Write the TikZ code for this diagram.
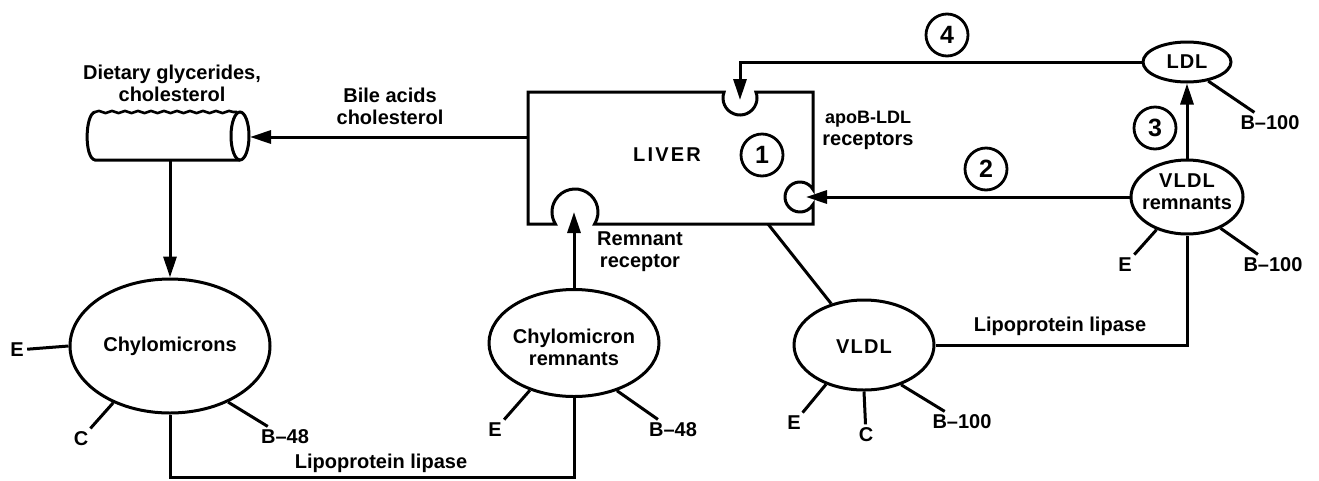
\documentclass[tikz,border=0pt]{standalone}
\usepackage{fontspec}
\setmainfont{Liberation Sans}
\usetikzlibrary{arrows.meta,shapes.geometric,decorations.pathmorphing}
\begin{document}
\begin{tikzpicture}[x=1pt,y=1pt,
  line width=3pt, line join=miter,
  every node/.style={font=\bfseries\fontsize{20}{22}\selectfont, align=center, inner sep=1pt},
  lip/.style={draw, ellipse, inner sep=0pt},
  num/.style={draw, circle, minimum size=42pt, inner sep=0pt, line width=2.8pt, font=\bfseries\fontsize{25}{25}\selectfont},
  arr/.style={-{Triangle[length=21pt,width=13pt]}},
  lbl/.style={inner sep=2pt},
]
\useasboundingbox (0,0) rectangle (1319,-480);

% ---------- intestine (tube) ----------
\draw[line width=2.6pt, decorate, decoration={snake, amplitude=1.1pt, segment length=13pt}] (95,-112) -- (237,-112);
\draw (95,-112) .. controls (85,-114) and (84,-158) .. (95,-160) -- (240,-160);
\draw (240,-136) ellipse [x radius=9, y radius=24];
\coordinate (gutR) at (250,-137);
\coordinate (gutB) at (170,-160);
\node (diet) at (172,-83.5) {\fontsize{20}{23}\selectfont Dietary glycerides,\\cholesterol};

% ---------- liver ----------
\draw (528,-92) -- (724.1,-92) arc[start angle=159.3, end angle=380.7, radius=17]
  -- (813,-92) -- (813,-189.5) arc[start angle=30, end angle=330, radius=15]
  -- (813,-224) -- (594.6,-224) arc[start angle=-31.5, end angle=211.5, radius=23]
  -- (528,-224) -- cycle;
\coordinate (liverW) at (528,-137);
\coordinate (liverB) at (768,-224);
\coordinate (rcpTop) at (740,-100);
\coordinate (rcpRight) at (806,-197);
\coordinate (rcpRem) at (574,-212);
\node (liver) at (667,-155) {\addfontfeature{LetterSpace=11}LIVER};
\node[num] (n1) at (762,-155) {1};
\node (apo) at (868,-130) {\fontsize{18}{20}\selectfont apoB-LDL\\receptors};
\node (remrec) at (640,-251.5) {\fontsize{20}{23}\selectfont Remnant\\receptor};
\node (bile) at (390,-106.5) {\fontsize{20}{21}\selectfont Bile acids\\cholesterol};

% ---------- lipoproteins ----------
\node[lip, minimum width=200pt, minimum height=134pt] (chylo) at (170,-346) {};
\node at (170,-346) {Chylomicrons};
\node[lip, minimum width=170pt, minimum height=107pt] (crem) at (574,-343) {};
\node at (574,-347) {Chylomicron\\remnants};
\node[lip, minimum width=140pt, minimum height=90pt] (vldl) at (864,-345) {};
\node at (864,-347) {\addfontfeature{LetterSpace=6}VLDL};
\node[lip, minimum width=112pt, minimum height=74pt] (vrem) at (1187,-197) {};
\node at (1187,-192) {\fontsize{18}{20}\selectfont{\fontsize{20}{20}\selectfont\addfontfeature{LetterSpace=6}VLDL}\\remnants};
\node[lip, minimum width=88pt, minimum height=40pt] (ldl) at (1187,-62) {};
\node at (1187,-62) {\addfontfeature{LetterSpace=5}LDL};

% ---------- connectors ----------
\coordinate (lowY) at (0,-477);
\draw[arr] (liverW) -- (gutR);
\draw[arr] (gutB) -- (chylo.north);
\draw (chylo.south) -- (chylo.south |- lowY) -| (crem.south);
\node (lpl1) at (381,-463) {Lipoprotein lipase};
\draw[arr] (crem.north) -- (rcpRem);
\draw (liverB) -- (vldl);
\draw (vldl.east) -| (vrem.south);
\node (lpl2) at (1060,-326) {Lipoprotein lipase};
\draw[arr] (vrem.west) -- (rcpRight);
\draw[arr] (vrem.north) -- (ldl.south);
\draw[arr] (ldl.west) -| (rcpTop);

\node[num] (n2) at (986,-169) {2};
\node[num] (n3) at (1155,-128) {3};
\node[num] (n4) at (947,-35) {4};

% ---------- apoprotein spokes ----------
\node[lbl] (chE) at (17,-350) {E};
\node[lbl] (chC) at (81,-439) {C};
\node[lbl] (chB) at (285,-437) {B--48};
\draw (chylo.west) -- (chE);
\draw (chylo.225) -- (chC);
\draw (chylo.316) -- (chB);

\node[lbl] (crE) at (495,-430) {E};
\node[lbl] (crB) at (673,-430) {B--48};
\draw (crem.227) -- (crE);
\draw (crem.312) -- (crB);

\node[lbl] (vE) at (794,-423) {E};
\node[lbl] (vC) at (866,-435) {C};
\node[lbl] (vB) at (962,-422) {B--100};
\draw (vldl.226) -- (vE);
\draw (vldl.south) -- (vC);
\draw (vldl.313) -- (vB);

\node[lbl] (vrE) at (1125,-265) {E};
\node[lbl] (vrB) at (1273,-265) {B--100};
\draw (vrem.227) -- (vrE);
\draw (vrem.317) -- (vrB);

\node[lbl] (lB) at (1270,-123) {B--100};
\draw (ldl.318) -- (lB);
\end{tikzpicture}
\end{document}
